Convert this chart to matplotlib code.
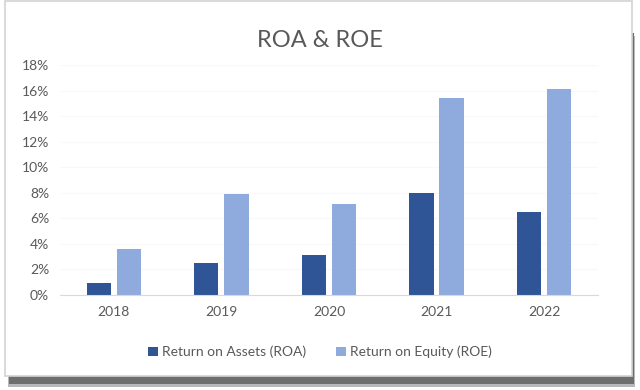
import numpy as np
import matplotlib.pyplot as plt
from matplotlib.patches import Rectangle
from matplotlib.ticker import FuncFormatter

years = ['2018', '2019', '2020', '2021', '2022']
roa = [0.96, 2.48, 3.15, 8.0, 6.48]
roe = [3.57, 7.9, 7.1, 15.45, 16.1]
yticks = [0, 2, 4, 6, 8, 10, 12, 14, 16, 18]

plt.rcParams['font.family'] = ['Lato', 'DejaVu Sans']
text_col = '#595959'

fig = plt.figure(figsize=(6.4, 3.9), dpi=100)

# card with drop shadow, like the pasted Excel chart
fig.patches.append(Rectangle((0.012, 0.008), 0.98, 0.9, transform=fig.transFigure,
                             facecolor='#b8b8b8', edgecolor='none', zorder=0))
fig.patches.append(Rectangle((0.014, 0.016), 0.976, 0.9, transform=fig.transFigure,
                             facecolor='#6e6e6e', edgecolor='none', zorder=0))
fig.patches.append(Rectangle((0.008, 0.036), 0.979, 0.961, transform=fig.transFigure,
                             facecolor='white', edgecolor='#d3d3d3', linewidth=1.2, zorder=1))

ax = fig.add_axes([0.094, 0.244, 0.84, 0.589])
ax.set_zorder(2)
ax.patch.set_alpha(0)

x = np.arange(len(years))
w = 0.225
off = 0.14
ax.bar(x - off, roa, width=w, color='#2f5597', label='Return on Assets (ROA)')
ax.bar(x + off, roe, width=w, color='#8faadc', label='Return on Equity (ROE)')

ax.set_xlim(-0.5, len(years) - 0.5)
ax.set_ylim(0, 18)
ax.set_yticks(yticks)
ax.yaxis.set_major_formatter(FuncFormatter(lambda v, p: f'{v:.0f}%'))
ax.set_xticks(x)
ax.set_xticklabels(years)
ax.tick_params(axis='both', length=0, colors=text_col, labelsize=10)
ax.tick_params(axis='x', pad=8)
ax.tick_params(axis='y', pad=8)
ax.grid(axis='y', color='#f8f8f8', linewidth=0.8)
ax.set_axisbelow(True)
for s in ['top', 'right', 'left']:
    ax.spines[s].set_visible(False)
ax.spines['bottom'].set_color('#d9d9d9')

fig.text(0.5, 0.897, 'ROA & ROE', ha='center', va='center', fontsize=17, color=text_col)

ax.legend(loc='center', ncol=2, frameon=False, fontsize=10, labelcolor=text_col,
          handlelength=0.7, handleheight=0.7, handletextpad=0.3, columnspacing=2.2,
          bbox_to_anchor=(0.5, 0.097), bbox_transform=fig.transFigure)

fig.savefig('out.png', dpi=100)
